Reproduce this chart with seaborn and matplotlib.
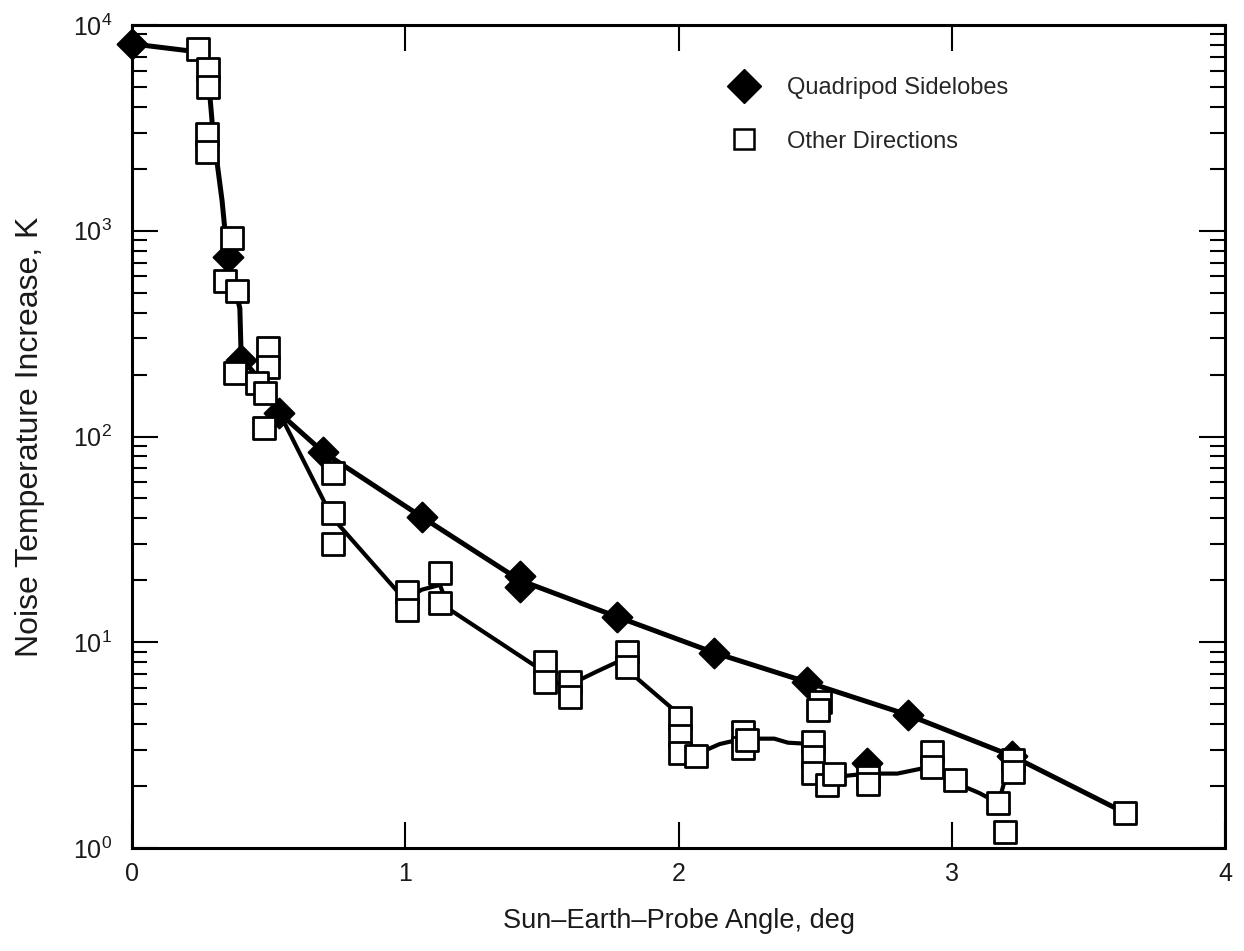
import matplotlib
matplotlib.use("Agg")
import matplotlib.pyplot as plt
from matplotlib.lines import Line2D
from matplotlib.ticker import LogLocator, FixedLocator, LogFormatterSciNotation, NullFormatter
import seaborn as sns
import pandas as pd
import numpy as np

# ---------------- data ----------------
# Quadripod sidelobes (filled diamonds)
quad_x = [0.0, 0.35, 0.40, 0.54, 0.70, 1.06, 1.42, 1.42, 1.775, 2.13, 2.47, 2.69, 2.84, 3.22]
quad_y = [8100, 745, 235, 130, 84, 40.6, 21, 18.5, 13.3, 8.9, 6.4, 2.6, 4.43, 2.8]

# Other directions (open squares)
other_x = [0.242, 0.278, 0.278, 0.274, 0.274,
           0.366, 0.340, 0.384,
           0.498, 0.498, 0.377, 0.457, 0.487, 0.483,
           0.736, 0.736, 0.736,
           1.006, 1.006, 1.127, 1.127,
           1.511, 1.511, 1.603, 1.603,
           1.811, 1.811,
           2.005, 2.005, 2.005, 2.064,
           2.236, 2.236, 2.25,
           2.518, 2.51, 2.492, 2.492, 2.492, 2.543, 2.57,
           2.694, 2.694,
           2.928, 2.928, 3.012,
           3.17, 3.195,
           3.225, 3.225,
           3.634]
other_y = [7640, 6110, 5000, 2950, 2415,
           920, 570, 510,
           268, 218, 204, 182, 163, 110,
           66.5, 42.5, 30,
           17.5, 14.3, 21.7, 15.5,
           8.0, 6.4, 6.4, 5.4,
           9.0, 7.6,
           4.3, 3.5, 2.9, 2.8,
           3.66, 3.06, 3.35,
           5.1, 4.7, 3.27, 2.77, 2.32, 2.02, 2.3,
           2.21, 2.05,
           2.93, 2.48, 2.14,
           1.65, 1.20,
           2.68, 2.34,
           1.48]

# Curves drawn through the points
shared_x = [0.0, 0.242, 0.28, 0.296, 0.33, 0.35, 0.395, 0.40, 0.46, 0.54]
shared_y = [8100, 7400, 5500, 3100, 1400, 745, 420, 240, 195, 130]

upper_x = [0.54, 0.70, 1.061, 1.42, 1.775, 2.13, 2.47, 2.84, 3.22, 3.634]
upper_y = [130, 84, 40.6, 20, 13.3, 8.9, 6.4, 4.43, 2.8, 1.48]

lower_x = [0.54, 0.715, 0.736, 1.0, 1.06, 1.127, 1.16, 1.50, 1.56, 1.60, 1.70, 1.80, 1.83,
           1.99, 2.0, 2.064, 2.15, 2.236, 2.35, 2.40, 2.49, 2.49, 2.54, 2.62, 2.694, 2.80,
           2.90, 2.95, 3.01, 3.10, 3.17, 3.20, 3.225]
lower_y = [130, 45, 40, 16, 18, 19, 14.5, 7.3, 6.3, 6.2, 7.2, 8.3, 7.0,
           4.6, 3.2, 2.85, 3.2, 3.4, 3.4, 3.25, 3.2, 2.6, 2.15, 2.25, 2.3, 2.3,
           2.45, 2.3, 2.08, 1.85, 1.65, 2.3, 2.7]

x_ticks = [0, 1, 2, 3, 4]
y_ticks = [1, 10, 100, 1000, 10000]

series_names = ["Quadripod Sidelobes", "Other Directions"]
xlabel = "Sun\u2013Earth\u2013Probe Angle, deg"
ylabel = "Noise Temperature Increase, K"

# ---------------- style ----------------
sns.set_theme(style="white")
plt.rcParams["font.family"] = ["Liberation Sans", "DejaVu Sans"]
plt.rcParams["mathtext.fontset"] = "custom"
plt.rcParams["mathtext.rm"] = "Liberation Sans"
plt.rcParams["mathtext.it"] = "Liberation Sans:italic"
plt.rcParams["mathtext.bf"] = "Liberation Sans:bold"

fig = plt.figure(figsize=(12.44, 9.51), dpi=100)
ax = fig.add_axes([0.106, 0.1083, 0.879, 0.8654])

# lines
for cx, cy, lw in [(shared_x, shared_y, 3.6), (upper_x, upper_y, 3.6), (lower_x, lower_y, 3.0)]:
    sns.lineplot(x=cx, y=cy, sort=False, estimator=None, color="black",
                 linewidth=lw, ax=ax, zorder=2)

# markers
df_q = pd.DataFrame({"x": quad_x, "y": quad_y})
df_o = pd.DataFrame({"x": other_x, "y": other_y})
sns.scatterplot(data=df_q, x="x", y="y", marker="D", s=230, color="black",
                edgecolor="black", linewidth=1.5, ax=ax, zorder=3, legend=False,
                clip_on=False)
sns.scatterplot(data=df_o, x="x", y="y", marker="s", s=240, color="white",
                edgecolor="black", linewidth=2.0, ax=ax, zorder=4, legend=False,
                clip_on=False)

ax.set_yscale("log")
ax.set_xlim(0, 4)
ax.set_ylim(1, 10000)

ax.xaxis.set_major_locator(FixedLocator(x_ticks))
ax.set_xticklabels([str(t) for t in x_ticks])
ax.yaxis.set_major_locator(FixedLocator(y_ticks))
ax.yaxis.set_major_formatter(LogFormatterSciNotation())
ax.yaxis.set_minor_locator(LogLocator(base=10, subs=np.arange(2, 10)))
ax.yaxis.set_minor_formatter(NullFormatter())

ax.tick_params(axis="both", which="major", direction="in", length=19, width=1.5,
               bottom=True, left=True, top=True, right=True, labelsize=18,
               color="black", labelcolor="#1a1a1a")
ax.tick_params(axis="y", which="minor", direction="in", length=11, width=1.5,
               left=True, right=True, color="black")
ax.tick_params(axis="x", which="major", pad=10)
ax.tick_params(axis="y", which="major", pad=14)

for sp in ax.spines.values():
    sp.set_visible(True)
    sp.set_color("black")
    sp.set_linewidth(2.2)

ax.set_xlabel(xlabel, fontsize=19.5, labelpad=16, color="#1a1a1a")
ax.set_ylabel(ylabel, fontsize=23, labelpad=20, color="#1a1a1a")

handles = [
    Line2D([], [], marker="D", linestyle="none", markersize=17, markerfacecolor="black",
           markeredgecolor="black"),
    Line2D([], [], marker="s", linestyle="none", markersize=14, markerfacecolor="white",
           markeredgecolor="black", markeredgewidth=1.8),
]
ax.legend(handles, series_names, loc="upper left", bbox_to_anchor=(0.545, 0.937),
          frameon=False, fontsize=17, handlelength=1.4, handletextpad=1.1,
          labelspacing=1.35, borderaxespad=0, borderpad=0)

fig.savefig("out.png", dpi=100)
